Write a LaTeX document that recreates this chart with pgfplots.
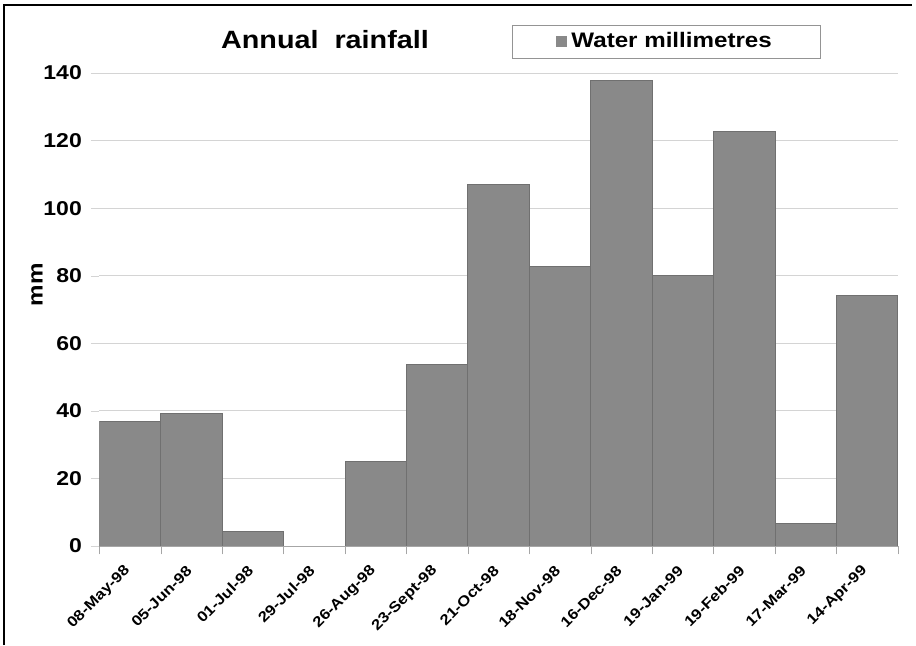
\documentclass[border=0pt]{standalone}
\usepackage{fontspec}
\setmainfont{Liberation Sans}[FakeStretch=1.15]
\usepackage{pgfplots}
\pgfplotsset{compat=1.18}
\definecolor{barfill}{RGB}{137,137,137}
\definecolor{baredge}{RGB}{112,112,112}
\definecolor{gridc}{RGB}{212,212,212}

\pgfplotstableread{
x val
0 37.0
1 39.3
2 4.2
3 0
4 25.1
5 53.6
6 107.1
7 82.8
8 137.7
9 80.2
10 122.6
11 6.7
12 74.0
}\rain

\begin{document}
\begin{tikzpicture}
\path[use as bounding box] (0,0) rectangle (458pt,322.5pt);
\draw[line width=0.8pt] (2pt,0) -- (2pt,320pt) -- (456pt,320pt);
\draw[gridc!70!black] (256pt,293.5pt) rectangle (410pt,310pt);
\begin{axis}[
  at={(49.65pt,49.5pt)}, anchor=south west,
  scale only axis,
  width=399.3pt, height=236.5pt,
  ybar, bar width=1, bar shift=0pt,
  xmin=-0.5, xmax=12.5,
  ymin=0, ymax=140,
  ytick={0,20,...,140},
  axis line style={draw=none},
  ymajorgrids, grid style={gridc},
  tick align=outside,
  major tick length=4.2pt,
  xtick pos=bottom, ytick pos=left,
  ytick style={draw=gridc},
  xtick={0,...,12},
  xtick style={draw=none},
  xticklabels={08-May-98,05-Jun-98,01-Jul-98,29-Jul-98,26-Aug-98,23-Sept-98,21-Oct-98,18-Nov-98,16-Dec-98,19-Jan-99,19-Feb-99,17-Mar-99,14-Apr-99},
  extra x ticks={-0.5,0.5,...,12.5},
  extra x tick labels={},
  extra x tick style={grid=none, xtick style={draw=gray!70}},
  /pgf/number format/assume math mode=true,
  yticklabel style={font=\bfseries\fontsize{10}{12}\selectfont, xshift=-1pt},
  xticklabel style={font=\bfseries\fontsize{7.3}{9}\selectfont, yshift=-7pt, xshift=-1pt, rotate=45, anchor=east, inner sep=0pt},
  title={Annual\ \ rainfall},
  title style={at={(0.2826,1.0655)}, anchor=center, yshift=-5pt, font=\bfseries\fontsize{12.5}{14}\selectfont},
  ylabel={mm},
  ylabel style={at={(-0.078,0.552)}, anchor=center, font=\bfseries\fontsize{10.5}{12}\selectfont},
  legend style={at={(0.5719,1.0666)}, anchor=west, draw=none, fill=none, inner sep=0pt,
    font=\bfseries\fontsize{10.5}{12}\selectfont},
  legend image code/.code={\fill[barfill] (0pt,-2.5pt) rectangle (5pt,2.5pt);},
]
\addplot[fill=barfill, draw=baredge, line width=0.5pt] table[x=x, y=val] {\rain};
\addlegendentry{Water millimetres}
\draw[gridc] (rel axis cs:1,0) -- (rel axis cs:1,1);
\draw[gray!70] (rel axis cs:0,0) -- (rel axis cs:1,0);
\end{axis}
\end{tikzpicture}
\end{document}
